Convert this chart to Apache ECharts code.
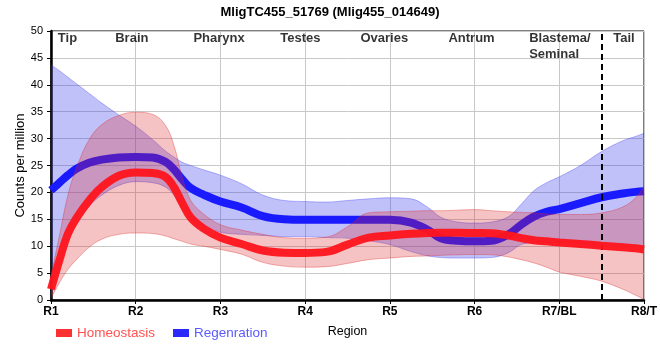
<!DOCTYPE html>
<html><head><meta charset="utf-8">
<script src="https://cdn.jsdelivr.net/npm/echarts@6/dist/echarts.min.js"></script>
<style>html,body{margin:0;padding:0;background:#fff}#c{width:660px;height:360px}</style>
</head><body><div id="c"></div>
<script>
// ---- data ----
const regionLabels = ['R1','R2','R3','R4','R5','R6','R7/BL','R8/T'];
const tissueNames = ['Tip','Brain','Pharynx','Testes','Ovaries','Antrum','Blastema/\nSeminal','Tail'];
const tissuePos = [0.2,0.96,1.99,2.95,3.94,4.97,5.65,6.77];
const dividerAt = 6.5;

const xs = [0,0.1,0.2,0.3,0.45,0.6,0.8,1.0,1.2,1.35,1.45,1.55,1.65,1.8,2.0,2.25,2.5,2.75,3.0,3.25,3.5,3.75,4.0,4.25,4.45,4.6,4.8,5.0,5.2,5.4,5.55,5.7,5.85,6.0,6.25,6.5,6.75,6.9,7.0];

const homeoMean  = [2.0,7.4,12.3,15.2,18.5,21.0,23.1,23.7,23.6,22.9,21.0,18.0,15.3,13.3,11.6,10.4,9.2,8.8,8.75,8.95,10.3,11.6,12.0,12.3,12.45,12.5,12.5,12.45,12.4,12.0,11.5,11.1,10.9,10.7,10.4,10.1,9.8,9.6,9.4];
const homeoUpper = [4.5,12.0,19.5,24.5,29.8,32.6,34.3,34.9,34.5,32.5,28.8,22.8,18.5,16.0,14.0,13.0,12.2,11.6,11.5,11.7,13.6,16.2,16.4,16.5,16.6,16.6,16.7,16.8,16.6,16.4,16.3,16.2,16.0,15.9,15.9,16.2,17.3,19.0,21.1];
const homeoLower = [0.3,3.2,5.7,7.5,9.8,11.3,12.2,12.45,12.35,11.9,11.4,10.9,10.4,10.0,9.4,8.5,7.0,6.3,6.1,6.2,6.8,7.5,7.8,8.1,8.2,8.3,8.4,8.45,8.4,8.0,7.5,6.9,6.1,5.2,4.4,3.5,2.0,0.9,0.1];

const regenMean  = [20.4,21.8,23.2,24.4,25.5,26.1,26.5,26.6,26.5,25.7,24.3,22.4,20.8,19.6,18.3,17.2,15.6,15.0,14.9,14.9,14.9,14.9,14.9,14.4,13.0,11.5,11.0,10.9,11.0,12.2,14.0,15.5,16.4,16.9,18.0,19.1,19.8,20.1,20.2];
const regenUpper = [43.7,42.6,41.4,40.2,38.4,36.6,34.4,32.3,29.8,27.7,26.6,25.6,25.0,24.2,23.2,21.6,19.5,18.5,18.3,18.2,18.5,18.8,19.0,18.8,17.2,15.4,14.5,14.3,14.5,15.5,17.8,20.3,21.8,22.9,25.0,27.6,29.6,30.4,31.0];
const regenLower = [0.8,6.0,10.8,14.0,17.4,19.5,21.3,22.0,21.8,21.0,19.5,17.0,15.0,13.8,12.6,12.2,12.0,11.8,11.8,11.6,11.5,11.0,10.3,9.0,8.2,7.9,7.8,7.8,7.9,8.8,10.3,10.6,10.6,10.5,10.3,10.2,10.1,10.0,9.8];

// ---- build options (value column first so stacking applies to y) ----
const pair = ys => xs.map((x, i) => [ys[i], x]);
const diff = (a, b) => xs.map((x, i) => [+(a[i] - b[i]).toFixed(3), x]);
const ENC = {x: 1, y: 0};
const SM = 0.4;
const FONT = 'Liberation Sans, Arial, sans-serif';

const chart = echarts.init(document.getElementById('c'), null, {renderer: 'canvas'});
chart.setOption({
  animation: false,
  backgroundColor: '#fff',
  textStyle: {fontFamily: FONT},
  title: {
    text: 'MligTC455_51769 (Mlig455_014649)', left: 'center', top: 1,
    textStyle: {fontSize: 13, fontWeight: 'bold', color: '#000', fontFamily: FONT}
  },
  grid: {left: 51, right: 10, top: 31, bottom: 60, show: true, borderColor: '#000', borderWidth: 1},
  legend: {
    left: 56, top: 326, padding: 0, icon: 'rect', itemWidth: 16, itemHeight: 8, itemGap: 18,
    selectedMode: false,
    textStyle: {fontSize: 13.5, fontFamily: FONT},
    data: [
      {name: 'Homeostasis', textStyle: {color: '#ff5050'}},
      {name: 'Regenration', textStyle: {color: '#5a5aff'}}
    ]
  },
  xAxis: {
    type: 'value', min: 0, max: 7, interval: 1,
    name: 'Region', nameLocation: 'middle', nameGap: 25, nameMoveOverlap: false,
    nameTextStyle: {fontSize: 12.5, color: '#000'},
    axisLine: {show: true, onZero: false, lineStyle: {color: '#000', width: 2.5}},
    axisTick: {show: true, length: 4, lineStyle: {color: '#000', width: 1}},
    axisLabel: {fontSize: 12, fontWeight: 'bold', color: '#000', margin: 6,
      formatter: v => regionLabels[Math.round(v)] || ''},
    splitLine: {show: true, lineStyle: {color: '#c8c8c8', width: 1}}
  },
  yAxis: {
    type: 'value', min: 0, max: 50, interval: 5,
    name: 'Counts per million', nameLocation: 'middle', nameGap: 24, nameMoveOverlap: false,
    nameTextStyle: {fontSize: 13, color: '#000'},
    axisLine: {show: true, lineStyle: {color: '#000', width: 2.5}},
    axisTick: {show: true, length: 4, lineStyle: {color: '#000', width: 1}},
    axisLabel: {fontSize: 11, color: '#000', margin: 8},
    splitLine: {show: true, lineStyle: {color: '#c8c8c8', width: 1}}
  },
  series: [
    {name: 'regenLow', type: 'line', z: 2, stack: 'regen', encode: ENC, data: pair(regenLower), smooth: SM, symbol: 'none', silent: true,
      lineStyle: {width: 0.8, color: 'rgba(60,60,240,0.45)'}},
    {name: 'regenBand', type: 'line', z: 2, stack: 'regen', encode: ENC, data: diff(regenUpper, regenLower), smooth: SM, symbol: 'none', silent: true,
      lineStyle: {width: 0.8, color: 'rgba(60,60,240,0.45)'}, areaStyle: {color: 'rgba(60,60,240,0.45)'}},
    {name: 'Regenration', type: 'line', z: 3, encode: ENC, data: pair(regenMean), smooth: SM, symbol: 'none', silent: true,
      itemStyle: {color: '#2a2aff'}, lineStyle: {width: 8, color: '#1a1aff'}},
    {name: 'homeoLow', type: 'line', z: 4, stack: 'homeo', encode: ENC, data: pair(homeoLower), smooth: SM, symbol: 'none', silent: true,
      lineStyle: {width: 0.8, color: 'rgba(220,40,40,0.45)'}},
    {name: 'homeoBand', type: 'line', z: 4, stack: 'homeo', encode: ENC, data: diff(homeoUpper, homeoLower), smooth: SM, symbol: 'none', silent: true,
      lineStyle: {width: 0.8, color: 'rgba(220,40,40,0.45)'}, areaStyle: {color: 'rgba(220,40,40,0.4)'}},
    {name: 'Homeostasis', type: 'line', z: 5, encode: ENC, data: pair(homeoMean), smooth: SM, symbol: 'none', silent: true,
      itemStyle: {color: '#ff3030'}, lineStyle: {width: 8, color: 'rgba(255,20,28,0.95)'},
      markLine: {silent: true, symbol: 'none', label: {show: false},
        lineStyle: {color: '#000', width: 2, type: [6, 4]},
        data: [{xAxis: dividerAt}]}},
    {name: 'tissues', type: 'scatter', z: 6, symbolSize: 1, silent: true,
      itemStyle: {color: 'transparent'},
      data: tissueNames.map((n, i) => ({
        value: [tissuePos[i], 50], name: n,
        label: {align: n.indexOf('\n') >= 0 ? 'left' : 'center'}
      })),
      label: {show: true, position: [0, 0], verticalAlign: 'top', formatter: p => p.name,
        fontSize: 13, fontWeight: 'bold', color: '#000', lineHeight: 16, fontFamily: FONT}}
  ]
});
</script></body></html>
